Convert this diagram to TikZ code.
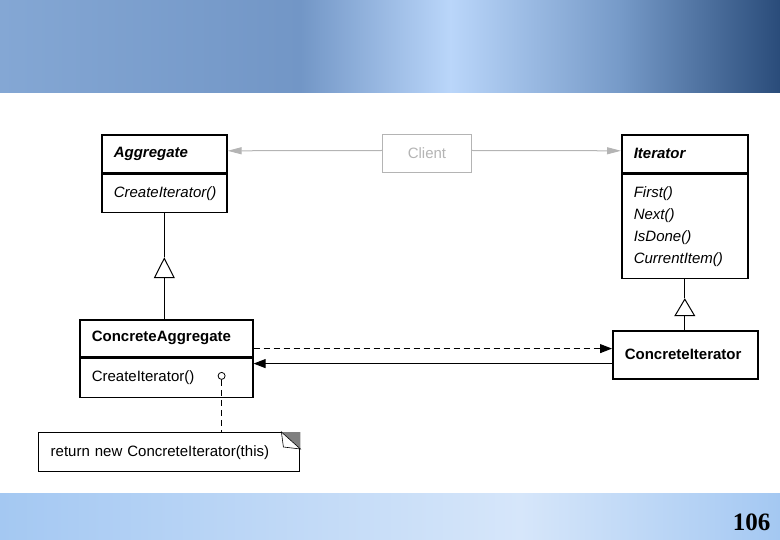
\documentclass[tikz,border=0pt]{standalone}
\usepackage{fontspec}
\setmainfont{Liberation Serif}
\setsansfont{Liberation Sans}
\usetikzlibrary{arrows.meta,positioning}

\definecolor{skyA}{RGB}{132,167,212}
\definecolor{skyB}{RGB}{114,150,198}
\definecolor{skyC}{RGB}{186,214,250}
\definecolor{skyD}{RGB}{118,154,200}
\definecolor{skyE}{RGB}{42,76,122}
\definecolor{footA}{RGB}{164,200,242}
\definecolor{footB}{RGB}{214,230,250}
\definecolor{clientgray}{RGB}{180,180,180}
\definecolor{foldgray}{RGB}{128,128,128}

\begin{document}
\begin{tikzpicture}[x=1pt,y=-1pt,line join=miter,
  every node/.style={font=\sffamily\fontsize{15}{18}\selectfont},
  classbox/.style={draw,line width=1.6pt,anchor=north west,inner xsep=12pt,
    inner ysep=0pt,align=left,text width=#1},
  notebox/.style={classbox=#1,line width=1.4pt},
  link/.style={line width=1pt},
  gen/.style={link,-{Triangle[open,length=#1,width=21pt,line width=1pt]}},
  nav/.style={link,-{Triangle[length=12pt,width=9pt]}},
  greynav/.style={link,clientgray,-{Triangle[length=14pt,width=7pt]}}]

  \useasboundingbox (0,0) rectangle (780,540);

  % header and footer bands
  \shade[left color=skyA,right color=skyB] (0,0) rectangle (300.5,93);
  \shade[left color=skyB,right color=skyC] (300,0) rectangle (450.5,93);
  \shade[left color=skyC,right color=skyD] (450,0) rectangle (620.5,93);
  \shade[left color=skyD,right color=skyE] (620,0) rectangle (780,93);
  \shade[left color=footA,right color=footB] (0,493) rectangle (520.5,540);
  \shade[left color=footB,right color=footA] (520,493) rectangle (780,540);

  % classes
  \node[classbox=101pt,minimum height=38pt] (agg) at (101,134)
    {\textbf{\textit{Aggregate}}};
  \node[classbox=101pt,minimum height=38pt] (aggops) at (agg.south west)
    {\textit{CreateIterator()}};

  \node[classbox=65pt,minimum height=38pt,draw=clientgray,line width=1pt,
    text=clientgray,align=center] (client) at (382,134) {Client};

  \node[classbox=102pt,minimum height=38pt] (iter) at (621,134)
    {\textbf{\textit{Iterator}}};
  \node[classbox=102pt,minimum height=104pt,
    font=\sffamily\fontsize{15}{22}\selectfont] (iterops) at (iter.south west)
    {\textit{First()}\\\textit{Next()}\\\textit{IsDone()}\\\textit{CurrentItem()}};

  \node[classbox=149pt,minimum height=37pt] (cagg) at (79,319)
    {\textbf{ConcreteAggregate}};
  \node[classbox=149pt,minimum height=39pt] (caggops) at (cagg.south west)
    {CreateIterator()};

  \node[classbox=121pt,minimum height=48pt] (citer) at (612,330)
    {\textbf{ConcreteIterator}};

  % note
  \node[notebox=237pt,minimum height=39pt] (note) at (38,432)
    {return new ConcreteIterator(this)};
  \fill[foldgray] (note.north east) -- ++(-19,0) -- ++(19,17) -- cycle;
  \draw[line width=.6pt,fill=white] ([xshift=-19pt]note.north east)
    -- ++(2,15) -- ++(17,2) -- cycle;

  % client references
  \draw[greynav] ([yshift=3pt]client.west) -- ([yshift=3pt]agg.east);
  \draw[greynav] ([yshift=3pt]client.east) -- ([yshift=3pt]iter.west);

  % generalisations
  \coordinate[below=44pt of aggops.south] (aggtip);
  \draw[link] (aggops.south) -- (aggtip);
  \draw[gen=21pt] (aggtip |- cagg.north) -- (aggtip);

  \coordinate[below=19pt of iterops.south] (itertip);
  \draw[link] (iterops.south) -- (itertip);
  \draw[gen=18pt] (itertip |- citer.north) -- (itertip);

  % creation and navigation
  \draw[nav,dash pattern=on 6pt off 4pt] ([yshift=9pt]cagg.south east)
    -- ([yshift=9pt]cagg.south east -| citer.west);
  \draw[nav] ([yshift=-6pt]cagg.south east -| citer.west)
    -- ([yshift=-6pt]cagg.south east);

  % implementation hook
  \node[circle,draw,line width=.8pt,inner sep=0pt,minimum size=7pt,fill=white]
    (hook) at ([xshift=-32pt,yshift=2pt]caggops.east) {};
  \draw[link,dash pattern=on 6pt off 4pt] (hook.south) -- (hook.south |- note.north);

  % slide number
  \node[font=\rmfamily\bfseries\fontsize{25}{25}\selectfont,anchor=east] (page)
    at (774,522) {106};
\end{tikzpicture}
\end{document}
